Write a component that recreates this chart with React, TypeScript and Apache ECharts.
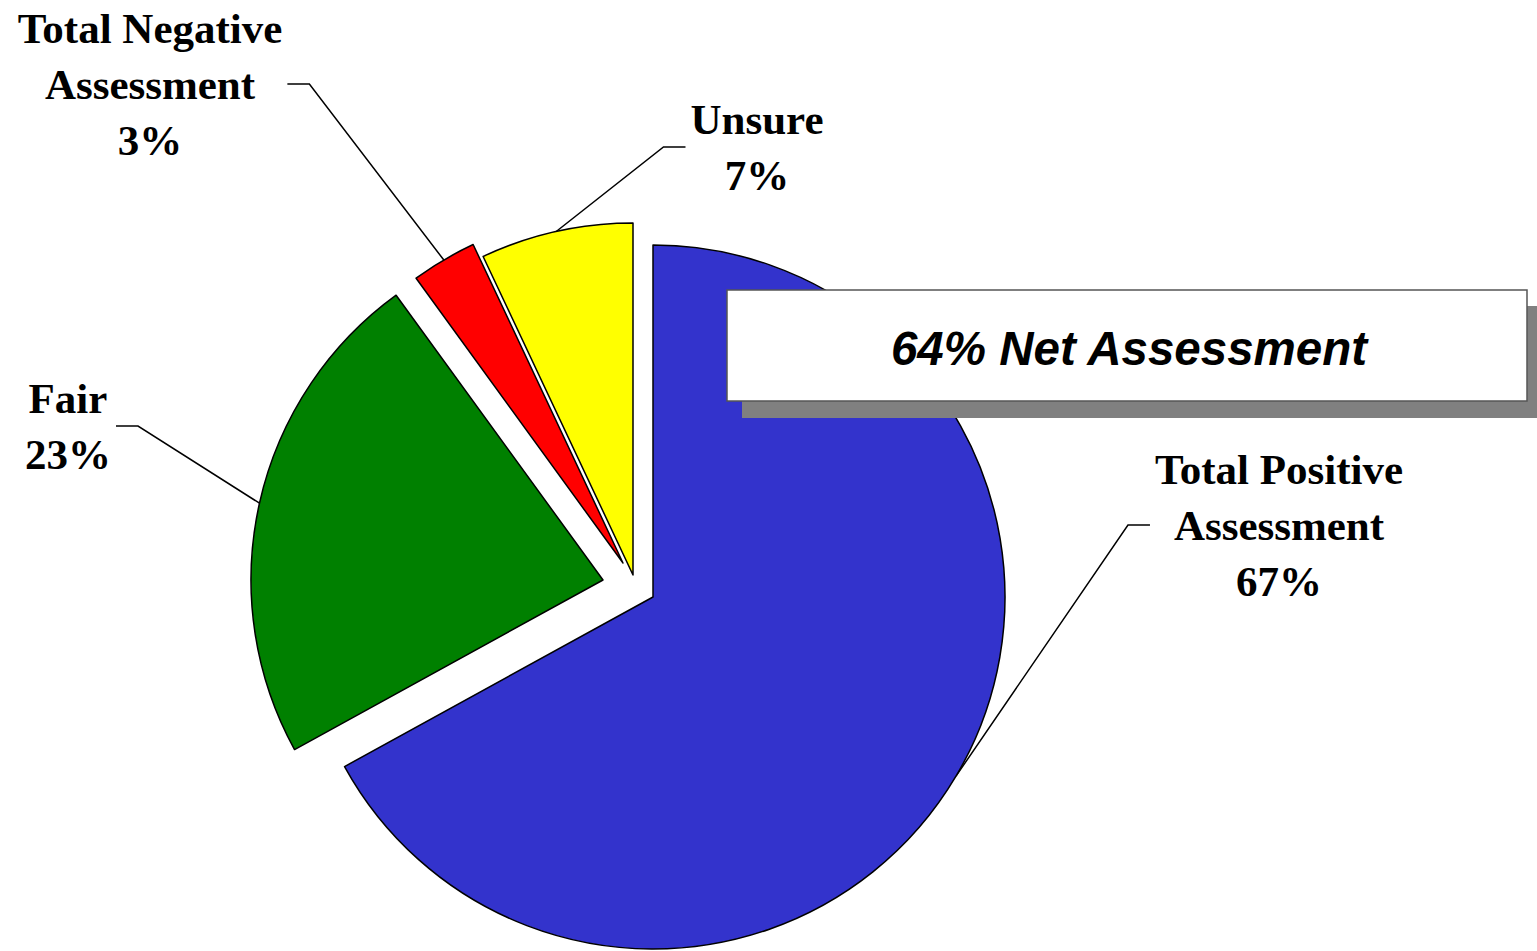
import React, { useEffect, useRef } from 'react';
import * as echarts from 'echarts';

// ---- data ----
const categories = ['Total Positive\nAssessment', 'Fair', 'Total Negative\nAssessment', 'Unsure'];
const values = [67, 23, 3, 7];

// ---- styling / layout (not data) ----
const colors = ['#3333CC', '#008000', '#FF0000', '#FFFF00'];
const sliceCenters = [
  [653, 597],
  [603, 580],
  [623, 563],
  [633, 575],
];
const labelCenters = [
  [1279, 525],
  [68, 426],
  [150, 84],
  [757, 147],
];
const RADIUS = 352;

export default function App() {
  const ref = useRef<HTMLDivElement>(null);

  useEffect(() => {
    document.body.style.margin = '0';
    document.body.style.overflow = 'hidden';
    if (!ref.current) return;
    const chart = echarts.init(ref.current, undefined, { renderer: 'svg' });

    const series = categories.map((_, k) => ({
      type: 'pie',
      silent: true,
      animation: false,
      center: sliceCenters[k],
      radius: [0, RADIUS],
      startAngle: 90,
      clockwise: true,
      avoidLabelOverlap: false,
      emphasis: { disabled: true },
      labelLayout: () => ({
        x: labelCenters[k][0],
        y: labelCenters[k][1],
        align: 'center',
        verticalAlign: 'middle',
      }),
      data: categories.map((name, i) =>
        i === k
          ? {
              name,
              value: values[i],
              itemStyle: { color: colors[i], borderColor: '#000', borderWidth: 1.5 },
              label: {
                show: true,
                position: 'outside',
                formatter: (p: any) => `${p.name}\n${Math.round(p.percent)}%`,
                fontFamily: '"Liberation Serif", "Times New Roman", serif',
                fontWeight: 'bold',
                fontSize: 43,
                lineHeight: 56,
                color: '#000',
                align: 'center',
                padding: [0, 5],
              },
              labelLine: {
                show: true,
                length: 20,
                length2: 22,
                smooth: false,
                lineStyle: { color: '#000', width: 1.5 },
              },
            }
          : {
              name,
              value: values[i],
              itemStyle: { color: 'rgba(0,0,0,0)', borderWidth: 0 },
              label: { show: false },
              labelLine: { show: false },
            }
      ),
    }));

    const net = values[0] - values[2];

    chart.setOption({
      animation: false,
      backgroundColor: '#ffffff',
      series,
      graphic: [
        {
          type: 'rect',
          z: 100,
          shape: { x: 742, y: 306, width: 800, height: 112 },
          style: { fill: '#808080' },
        },
        {
          type: 'rect',
          z: 101,
          shape: { x: 727, y: 290, width: 800, height: 111 },
          style: { fill: '#ffffff', stroke: '#555555', lineWidth: 1.5 },
        },
        {
          type: 'text',
          z: 102,
          x: 1129,
          y: 348,
          style: {
            text: `${net}% Net Assessment`,
            fontFamily: '"Liberation Sans", Arial, sans-serif',
            fontWeight: 'bold',
            fontStyle: 'italic',
            fontSize: 47.5,
            fill: '#000',
            align: 'center',
            verticalAlign: 'middle',
          },
        },
      ],
    });

    return () => chart.dispose();
  }, []);

  return <div ref={ref} style={{ width: 1537, height: 951 }} />;
}
